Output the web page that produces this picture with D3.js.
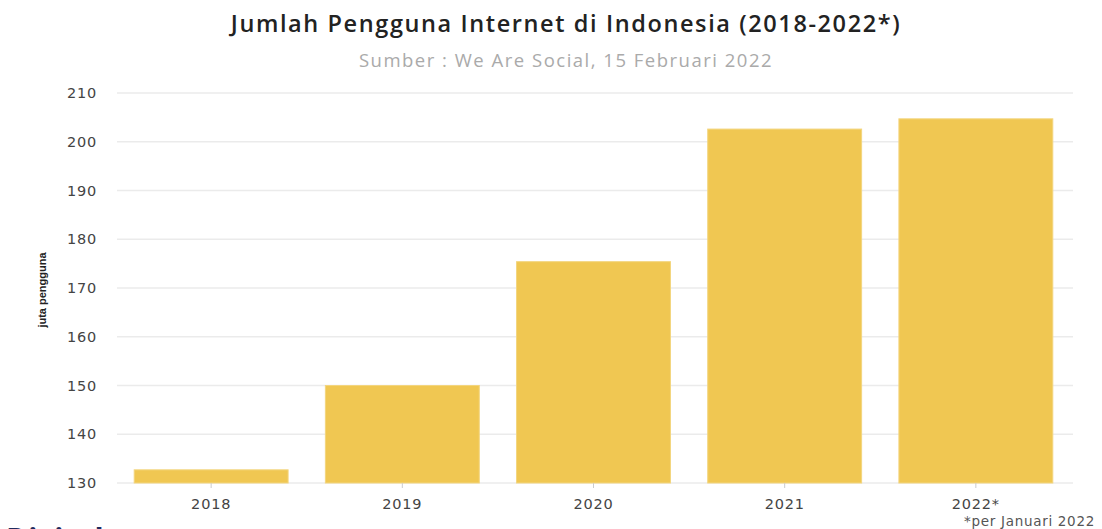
<!DOCTYPE html>
<html><head><meta charset="utf-8">
<script src="https://cdn.jsdelivr.net/npm/d3@7/dist/d3.min.js"></script>
<style>body{margin:0;background:#fff;}svg{display:block;}</style>
</head><body>
<svg id="c" width="1102" height="529"></svg>
<script>
const years = ["2018","2019","2020","2021","2022*"];
const yearLabels = ["2018","2019","2020","2021","2022*"];
const users = [132.7, 150.0, 175.4, 202.6, 204.7];
const yTicks = [130,140,150,160,170,180,190,200,210];

const svg = d3.select("#c");
const x = d3.scaleBand().domain(years).range([117, 1070]).paddingInner(0.195).paddingOuter(0.09);
const y = d3.scaleLinear().domain([130, 210]).range([483, 93]);

// gridlines
svg.append("g").selectAll("line").data(yTicks).join("line")
  .attr("x1", 117).attr("x2", 1073)
  .attr("y1", d => y(d)).attr("y2", d => y(d))
  .attr("stroke", "#ebebeb").attr("stroke-width", 1.5);

// bars
svg.append("g").selectAll("rect").data(users).join("rect")
  .attr("x", (d,i) => x(years[i]))
  .attr("width", x.bandwidth())
  .attr("y", d => y(d))
  .attr("height", d => y(130) - y(d))
  .attr("fill", "#f0c752")
  .attr("stroke", "#f3d57e").attr("stroke-width", 1);

// y axis
const yAxis = d3.axisLeft(y).tickValues(yTicks).tickSize(0).tickPadding(0);
const gy = svg.append("g").attr("transform", "translate(97,0)").call(yAxis);
gy.select(".domain").remove();
gy.selectAll("text").attr("font-family", "Verdana, 'DejaVu Sans', sans-serif")
  .attr("font-size", 14.5).attr("fill", "#444").attr("letter-spacing", 0.8);

// x axis
const xAxis = d3.axisBottom(x).tickSize(5).tickPadding(11).tickFormat((d,i) => yearLabels[i]);
const gx = svg.append("g").attr("transform", "translate(0,483)").call(xAxis);
gx.select(".domain").remove();
gx.selectAll(".tick line").attr("stroke", "#cccccc");
gx.selectAll("text").attr("font-family", "Verdana, 'DejaVu Sans', sans-serif")
  .attr("font-size", 14.5).attr("fill", "#444").attr("letter-spacing", 0.8);

// title
svg.append("text").attr("x", 566).attr("y", 32).attr("text-anchor", "middle")
  .attr("font-family", "'Open Sans', 'DejaVu Sans', sans-serif").attr("font-weight", 600)
  .attr("font-size", 23.5).attr("fill", "#222").attr("letter-spacing", 1.6)
  .text("Jumlah Pengguna Internet di Indonesia (2018-2022*)");
svg.append("text").attr("x", 566).attr("y", 67).attr("text-anchor", "middle")
  .attr("font-family", "'Open Sans', 'DejaVu Sans', sans-serif")
  .attr("font-size", 18.5).attr("fill", "#aaaaaa").attr("letter-spacing", 1.5)
  .text("Sumber : We Are Social, 15 Februari 2022");

// y axis title
svg.append("text").attr("transform", "translate(46,290) rotate(-90)").attr("text-anchor", "middle")
  .attr("font-family", "'Liberation Sans', Arial, sans-serif").attr("font-weight", "bold")
  .attr("font-size", 11).attr("fill", "#222")
  .text("juta pengguna");

// footnote
svg.append("text").attr("x", 1095).attr("y", 526).attr("text-anchor", "end")
  .attr("font-family", "Verdana, 'DejaVu Sans', sans-serif")
  .attr("font-size", 13.5).attr("fill", "#555").attr("letter-spacing", 0.7)
  .text("*per Januari 2022");

// cut-off text at bottom-left
svg.append("text").attr("x", 6).attr("y", 550)
  .attr("font-family", "'Open Sans', 'DejaVu Sans', sans-serif").attr("font-weight", 700)
  .attr("font-size", 30).attr("fill", "#1e2b5e")
  .text("Digital");
</script>
</body></html>
